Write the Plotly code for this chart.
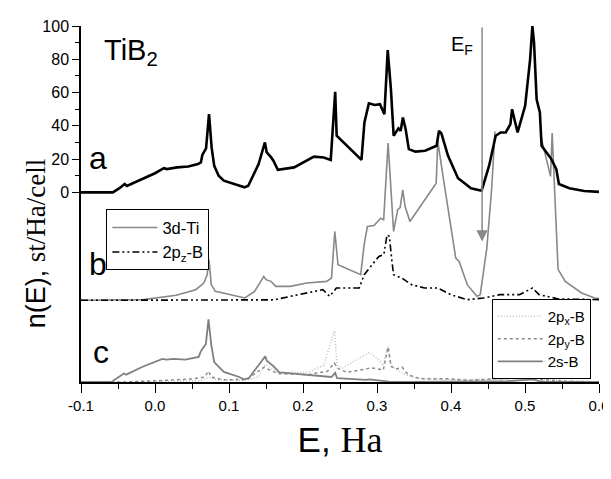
import plotly.graph_objects as go

# ---------------- data ----------------
# panel a: total DOS (st/Ha/cell)
E_tot = [-0.100, -0.057, -0.048, -0.041, -0.038, -0.016, 0.000, 0.012, 0.016, 0.030,
         0.045, 0.058, 0.062, 0.064, 0.069, 0.073, 0.0765, 0.080, 0.086, 0.093,
         0.110, 0.121, 0.126, 0.140, 0.1485, 0.151, 0.157, 0.160, 0.166, 0.188,
         0.2148, 0.228, 0.2375, 0.2435, 0.2455, 0.279, 0.283, 0.289, 0.297, 0.304,
         0.310, 0.3145, 0.3188, 0.3225, 0.329, 0.332, 0.335, 0.3387, 0.343, 0.352,
         0.365, 0.3805, 0.3838, 0.387, 0.396, 0.4095, 0.414, 0.427, 0.4414, 0.4515,
         0.4604, 0.467, 0.474, 0.4803, 0.4825, 0.4856, 0.490, 0.5002, 0.5069, 0.510,
         0.5122, 0.5157, 0.5201, 0.5224, 0.5356, 0.5423, 0.5458, 0.560, 0.580, 0.600]
n_tot = [0, 0, 2.5, 5, 3.8, 8, 11.5, 14.5, 14, 15,
         15.5, 17, 18, 22.5, 26.5, 47, 27, 16, 10, 7,
         4.5, 3, 4, 17, 30, 24, 21, 19, 13.5, 15,
         21.5, 21, 19.5, 60.5, 34, 19.5, 42, 53.5, 52.5, 53,
         47, 85.5, 62, 34, 38.5, 37, 45, 38, 26, 24.5,
         25, 28, 37, 35.5, 22, 8.5, 7, 2.5, 1, 16,
         34, 36, 36, 41, 50, 44, 36, 52, 80, 100,
         90, 56, 48, 28, 20, 14, 5, 2.5, 0.8, 0.3]

# panel b: 3d-Ti (gap = part hidden above the top of panel b)
E_3d = [-0.100, -0.050, -0.0156, 0.0286, 0.055, 0.066, 0.0705, 0.073, 0.076, 0.0816,
        0.1037, 0.1214, 0.1346, 0.147, 0.150, 0.1567, 0.1633, 0.183, 0.205, 0.232,
        0.2385, 0.243, 0.2473, 0.278, 0.2826, 0.287, 0.296, 0.305, 0.309, 0.315,
        0.3224, 0.328, 0.3313, 0.3348, 0.338, 0.3445, 0.380, 0.3821, 0.391, 0.4064,
        0.411, 0.422, 0.435, 0.4395, 0.4484, 0.455, 0.4594, 0.490, 0.5213, 0.5345,
        0.5367, 0.5447, 0.5544, 0.5765, 0.5942, 0.600]
n_3d = [0, 0, 0.4, 3, 6.4, 10.4, 15.4, 24.5, 9.4, 5.4,
        3.4, 1.4, 5.4, 14.4, 12.4, 11.4, 8.4, 8.4, 10.4, 11.4,
        13.4, 41.4, 21.4, 15.4, 33.4, 44.4, 45, 49.4, 48.4, 94.5,
        41.4, 54.5, 55.8, 66.4, 56.4, 47.4, 70.4, 95.5, 69.4, 25.4,
        23.4, 9.4, 2.4, 3.4, 31.4, 67.4, 101.5, None, 99, 74.5,
        100.5, 18.6, 11.4, 4.4, 1.4, 1]

# panel b: 2pz-B
E_2pz = [-0.100, 0.150, 0.161, 0.183, 0.205, 0.227, 0.236, 0.2451, 0.276, 0.2826,
         0.3025, 0.3092, 0.3136, 0.3167, 0.3202, 0.3224, 0.3335, 0.3467, 0.3644, 0.3821,
         0.3997, 0.422, 0.444, 0.466, 0.4926, 0.5102, 0.519, 0.5456, 0.600]
n_2pz = [0, 0, 0.3, 2.4, 4.4, 6.4, 2.4, 7.4, 7.4, 15.4,
         26.4, 27.4, 39.4, 38.4, 23.4, 15.4, 13.4, 9.4, 7.4, 7.4,
         3.4, 0.4, 1.4, 3.4, 3.4, 7.4, 3.4, 0.8, 0.4]

# panel c: 2s-B
E_2s = [-0.100, -0.0585, -0.042, -0.039, -0.016, 0.010, 0.015, 0.0256, 0.041, 0.059,
        0.062, 0.0687, 0.0723, 0.076, 0.080, 0.093, 0.1138, 0.120, 0.1268, 0.1476,
        0.149, 0.151, 0.1605, 0.168, 0.202, 0.2384, 0.2436, 0.246, 0.285, 0.290,
        0.316, 0.347, 0.477, 0.511, 0.519, 0.530, 0.600]
n_2s = [0, 0.2, 5.1, 4.4, 9.3, 13.9, 13.4, 13.9, 13.4, 15.1,
        18.6, 22.8, 37.6, 22.5, 12.0, 6.1, 3.0, 1.6, 2.3, 14.9,
        15.5, 12.8, 9.3, 5.8, 4.6, 3.0, 5.5, 2.3, 1.3, 1.6,
        0.2, 0, 0.5, 1.6, 0.5, 0, 0]

# panel c: 2py-B
E_2py = [-0.100, -0.042, 0.010, 0.0515, 0.067, 0.0723, 0.076, 0.093, 0.124, 0.1476,
         0.155, 0.166, 0.207, 0.233, 0.2425, 0.246, 0.259, 0.280, 0.293, 0.3085,
         0.315, 0.319, 0.3266, 0.334, 0.342, 0.358, 0.399, 0.425, 0.456, 0.498,
         0.511, 0.519, 0.555, 0.600]
n_2py = [0, 0, 0.9, 1.9, 3.0, 6.5, 3.0, 1.3, 1.6, 8.9,
         7.2, 5.1, 4.4, 6.5, 11.4, 8.5, 5.8, 7.2, 8.5, 7.2,
         21.0, 9.3, 7.9, 8.9, 4.4, 1.9, 1.9, 0.9, 1.9, 2.3,
         3.7, 1.6, 0.5, 0]

# panel c: 2px-B
E_2px = [-0.100, -0.040, 0.060, 0.073, 0.085, 0.120, 0.140, 0.149, 0.166, 0.207,
         0.228, 0.2425, 0.246, 0.254, 0.275, 0.290, 0.300, 0.3085, 0.315, 0.319,
         0.332, 0.347, 0.373, 0.477, 0.511, 0.519, 0.555, 0.600]
n_2px = [0, 0, 0.7, 2.8, 1.1, 0.7, 3.0, 10.7, 5.8, 5.8,
         10.0, 30.9, 10.0, 8.5, 14.2, 17.7, 14.2, 10.0, 21.5, 10.0,
         5.8, 3.0, 1.6, 1.6, 5.8, 2.3, 0.5, 0]

y_ticks = [0, 20, 40, 60, 80, 100]
y_minor = [10, 30, 50, 70, 90]
x_ticks = [-0.1, 0.0, 0.1, 0.2, 0.3, 0.4, 0.5, 0.6]
x_tick_text = ["-0.1", "0.0", "0.1", "0.2", "0.3", "0.4", "0.5", "0.6"]
E_F = 0.442

# vertical offsets of the stacked panels
OFF_B = -64.9
OFF_C = -114.0


def shift(vals, off):
    return [None if v is None else v + off for v in vals]


SANS = "Liberation Sans, Arial, sans-serif"
SERIF = "Liberation Serif, Times New Roman, serif"

fig = go.Figure()

# panel c
fig.add_trace(go.Scatter(x=E_2px, y=shift(n_2px, OFF_C), mode="lines",
                         name="2p<sub>x</sub>-B", legend="legend2",
                         line=dict(color="#c2c2c2", width=1.6, dash="1px,2px")))
fig.add_trace(go.Scatter(x=E_2py, y=shift(n_2py, OFF_C), mode="lines",
                         name="2p<sub>y</sub>-B", legend="legend2",
                         line=dict(color="#8a8a8a", width=1.5, dash="3px,3px")))
fig.add_trace(go.Scatter(x=E_2s, y=shift(n_2s, OFF_C), mode="lines",
                         name="2s-B", legend="legend2",
                         line=dict(color="#808080", width=1.8)))
# panel b
fig.add_trace(go.Scatter(x=E_3d, y=shift(n_3d, OFF_B), mode="lines",
                         name="3d-Ti", legend="legend", connectgaps=False,
                         line=dict(color="#888888", width=1.6)))
fig.add_trace(go.Scatter(x=E_2pz, y=shift(n_2pz, OFF_B), mode="lines",
                         name="2p<sub>z</sub>-B", legend="legend",
                         line=dict(color="black", width=1.6,
                                   dash="7px,3px,2px,3px,2px,3px")))
# panel a
fig.add_trace(go.Scatter(x=E_tot, y=n_tot, mode="lines", showlegend=False,
                         line=dict(color="black", width=2.6)))

ytitle = ('<span style="font-family:Liberation Sans">n(E), </span>'
          '<span style="font-family:Liberation Serif">st/Ha/cell</span>')
xtitle = ('<span style="font-family:Liberation Sans;font-size:35px">E, </span>'
          '<span style="font-family:Liberation Serif;font-size:36px">Ha</span>')

annotations = [
    dict(x=-0.072, y=84.5, xref="x", yref="y", text="TiB<sub>2</sub>",
         showarrow=False, xanchor="left", yanchor="middle",
         font=dict(family=SANS, size=29, color="black")),
    dict(x=-0.0774, y=20.5, xref="x", yref="y", text="a", showarrow=False,
         xanchor="center", yanchor="middle", font=dict(family=SANS, size=32, color="black")),
    dict(x=-0.0774, y=OFF_B + 21.6, xref="x", yref="y", text="b", showarrow=False,
         xanchor="center", yanchor="middle", font=dict(family=SANS, size=32, color="black")),
    dict(x=-0.0728, y=OFF_C + 18.0, xref="x", yref="y", text="c", showarrow=False,
         xanchor="center", yanchor="middle", font=dict(family=SANS, size=32, color="black")),
    dict(x=0.3967, y=88, xref="x", yref="y", text="E<sub>F</sub>", showarrow=False,
         xanchor="left", yanchor="middle", font=dict(family=SANS, size=20, color="black")),
    dict(x=E_F, y=OFF_B + 35.3, xref="x", yref="y", ax=E_F, ay=100, axref="x", ayref="y",
         text="", showarrow=True, arrowhead=2, arrowsize=1.5, arrowwidth=1.5,
         arrowcolor="#888888", standoff=0),
    dict(x=-0.0875, y=0.389, xref="paper", yref="paper", text=ytitle, textangle=-90,
         showarrow=False, xanchor="center", yanchor="middle",
         font=dict(family=SANS, size=27, color="black")),
]

fig.update_layout(
    width=611, height=479,
    margin=dict(l=73, r=12, t=10, b=105),
    paper_bgcolor="white", plot_bgcolor="white",
    font=dict(family=SANS, color="black"),
    annotations=annotations,
    legend=dict(x=0.049, y=0.485, xanchor="left", yanchor="top",
                bgcolor="white", bordercolor="black", borderwidth=1,
                font=dict(family=SANS, size=16.5, color="black"),
                itemwidth=45, tracegroupgap=0),
    legend2=dict(x=0.793, y=0.233, xanchor="left", yanchor="top",
                 bgcolor="white", bordercolor="black", borderwidth=1,
                 font=dict(family=SANS, size=15, color="black"),
                 itemwidth=45),
    xaxis=dict(range=[-0.1, 0.6], tickmode="array", tickvals=x_ticks, ticktext=x_tick_text,
               ticklabeloverflow="allow",
               showline=True, linecolor="black", linewidth=1.6, mirror=False,
               ticks="outside", ticklen=9, tickwidth=1.2, tickcolor="black",
               minor=dict(dtick=0.05, tick0=-0.1, ticks="outside", ticklen=5,
                          tickwidth=1, tickcolor="black"),
               showgrid=False, zeroline=False,
               tickfont=dict(family=SANS, size=15, color="black"),
               title=dict(text=xtitle,
                          font=dict(family=SANS, size=34, color="black"), standoff=15)),
    yaxis=dict(range=[OFF_C, 100], tickvals=y_ticks,
               showline=True, linecolor="black", linewidth=1.5,
               ticks="outside", ticklen=7, tickwidth=1.2, tickcolor="black",
               minor=dict(tickvals=y_minor, ticks="outside", ticklen=4,
                          tickwidth=1, tickcolor="black"),
               showgrid=False, zeroline=False,
               tickfont=dict(family=SANS, size=16, color="black")),
)

fig.write_html("out.html")
